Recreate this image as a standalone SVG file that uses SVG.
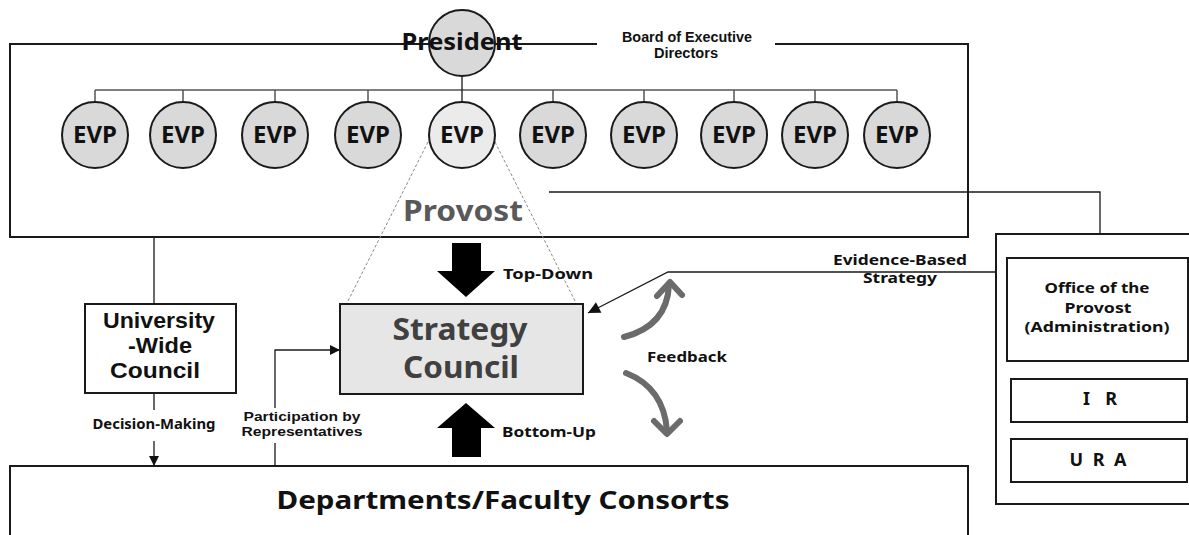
<svg xmlns="http://www.w3.org/2000/svg" width="1189" height="535" viewBox="0 0 1189 535">
<defs>
<style>
text{font-family:"Noto Sans","Liberation Sans",sans-serif;font-weight:bold;fill:#111;}
.lib{font-family:"Liberation Sans",Arial,sans-serif;}
.frame{fill:none;stroke:#1a1a1a;stroke-width:2;}
.box{fill:#fff;stroke:#1a1a1a;stroke-width:2;}
.evp{fill:#d9d9d9;stroke:#1a1a1a;stroke-width:2;}
.thin{fill:none;stroke:#1a1a1a;stroke-width:1.3;}
.bus{fill:none;stroke:#555;stroke-width:1.5;}
.dash{fill:none;stroke:#8a8a8a;stroke-width:1;stroke-dasharray:3 2;}
.fb{fill:none;stroke:#6b6b6b;stroke-width:6;stroke-linecap:round;stroke-linejoin:round;}
.ev{font-size:24px;text-anchor:middle;}
.lbl{font-size:15px;}
</style>
<marker id="ah" viewBox="0 0 10 10" refX="10" refY="5" markerWidth="10" markerHeight="10" markerUnits="userSpaceOnUse" orient="auto"><path d="M0,0 L10,5 L0,10 Z" fill="#111"/></marker>
<marker id="ah2" viewBox="0 0 10 10" refX="10" refY="5" markerWidth="14" markerHeight="12" markerUnits="userSpaceOnUse" orient="auto"><path d="M0,0 L10,5 L0,10 Z" fill="#111"/></marker>
</defs>

<g id="board">
<path class="frame" d="M597,44 H10 V237 H968 V44 H775"/>
<text class="lib" x="687" y="42" font-size="14" text-anchor="middle" textLength="130" lengthAdjust="spacingAndGlyphs">Board of Executive</text>
<text class="lib" x="686" y="58" font-size="14" text-anchor="middle" textLength="64" lengthAdjust="spacingAndGlyphs">Directors</text>
</g>

<g id="connectors">
<path class="bus" d="M95,90 H897 M95,90 V102 M183,90 V102 M275,90 V102 M368,90 V102 M553,90 V102 M644,90 V102 M734,90 V102 M815,90 V102 M897,90 V102"/>
<path class="thin" d="M462,77 V102"/>
<path class="dash" d="M428,142 L346,305 M495,142 L577,305"/>
<path class="thin" d="M549,192 H1100 V234"/>
<path class="thin" d="M154,237 V304 M154,393 V410"/>
<path class="thin" d="M154,441 V466" marker-end="url(#ah)"/>
<path class="thin" d="M275,466 V443 M275,408 V350 H340" marker-end="url(#ah)"/>
<path class="thin" d="M996,272 H668 L588,313" marker-end="url(#ah2)"/>
<polygon points="452,243 481,243 481,271 495,271 466,297 437,271 452,271" fill="#000"/>
<polygon points="452,457 481,457 481,428 495,428 466,403 437,428 452,428" fill="#000"/>
<path class="fb" d="M624,337 Q667,326 669,285"/>
<path class="fb" d="M657,296 L670,282 L682,295"/>
<path class="fb" d="M626,373 Q664,388 667,431"/>
<path class="fb" d="M654,421 L667,434 L680,421"/>
<text class="lbl" x="503" y="279" textLength="90" lengthAdjust="spacingAndGlyphs">Top-Down</text>
<text class="lbl" x="502" y="437" textLength="94" lengthAdjust="spacingAndGlyphs">Bottom-Up</text>
<text class="lbl" x="647" y="362" font-size="15.5" textLength="80" lengthAdjust="spacingAndGlyphs">Feedback</text>
<text class="lbl" x="900" y="265" text-anchor="middle" textLength="134" lengthAdjust="spacingAndGlyphs">Evidence-Based</text>
<text class="lbl" x="900" y="283" text-anchor="middle" textLength="74" lengthAdjust="spacingAndGlyphs">Strategy</text>
<text x="154" y="429" font-size="14" text-anchor="middle" textLength="123" lengthAdjust="spacingAndGlyphs">Decision-Making</text>
<text class="lib" x="302" y="421" font-size="13.2" text-anchor="middle" textLength="117" lengthAdjust="spacingAndGlyphs">Participation by</text>
<text class="lib" x="302" y="436" font-size="13.2" text-anchor="middle" textLength="121" lengthAdjust="spacingAndGlyphs">Representatives</text>
</g>

<g id="president">
<circle cx="462" cy="43" r="33" class="evp"/>
<text x="462" y="50" font-size="24" text-anchor="middle" textLength="121" lengthAdjust="spacingAndGlyphs">President</text>
</g>

<g id="evp1"><circle cx="95" cy="135" r="33" class="evp"/><text class="ev" x="95" y="143">EVP</text></g>
<g id="evp2"><circle cx="183" cy="135" r="33" class="evp"/><text class="ev" x="183" y="143">EVP</text></g>
<g id="evp3"><circle cx="275" cy="135" r="33" class="evp"/><text class="ev" x="275" y="143">EVP</text></g>
<g id="evp4"><circle cx="368" cy="135" r="33" class="evp"/><text class="ev" x="368" y="143">EVP</text></g>
<g id="evp5"><circle cx="462" cy="135" r="33" class="evp" style="fill:#ebebeb"/><text class="ev" x="462" y="143">EVP</text></g>
<g id="evp6"><circle cx="553" cy="135" r="33" class="evp"/><text class="ev" x="553" y="143">EVP</text></g>
<g id="evp7"><circle cx="644" cy="135" r="33" class="evp"/><text class="ev" x="644" y="143">EVP</text></g>
<g id="evp8"><circle cx="734" cy="135" r="33" class="evp"/><text class="ev" x="734" y="143">EVP</text></g>
<g id="evp9"><circle cx="815" cy="135" r="33" class="evp"/><text class="ev" x="815" y="143">EVP</text></g>
<g id="evp10"><circle cx="897" cy="135" r="33" class="evp"/><text class="ev" x="897" y="143">EVP</text></g>

<g id="provost">
<text x="463" y="221" font-size="29" text-anchor="middle" style="fill:#595959" textLength="120" lengthAdjust="spacingAndGlyphs">Provost</text>
</g>

<g id="strategy-council">
<rect x="340" y="304" width="243" height="90" fill="#e6e6e6" stroke="#1a1a1a" stroke-width="2"/>
<text x="460" y="340" font-size="31" text-anchor="middle" style="fill:#404040" textLength="135" lengthAdjust="spacingAndGlyphs">Strategy</text>
<text x="461" y="378" font-size="31" text-anchor="middle" style="fill:#404040" textLength="116" lengthAdjust="spacingAndGlyphs">Council</text>
</g>

<g id="university-wide-council">
<rect x="85" y="304" width="151" height="89" class="box"/>
<text class="lib" x="159" y="328" font-size="21.5" text-anchor="middle" textLength="112" lengthAdjust="spacingAndGlyphs">University</text>
<text class="lib" x="160" y="353" font-size="21.5" text-anchor="middle" textLength="64" lengthAdjust="spacingAndGlyphs">-Wide</text>
<text class="lib" x="155" y="378" font-size="21.5" text-anchor="middle" textLength="90" lengthAdjust="spacingAndGlyphs">Council</text>
</g>

<g id="departments">
<rect x="10" y="466" width="958" height="80" class="box"/>
<text x="503" y="509" font-size="25" text-anchor="middle" textLength="453" lengthAdjust="spacingAndGlyphs">Departments/Faculty Consorts</text>
</g>

<g id="provost-office-group">
<rect x="996" y="234" width="200" height="270" class="box"/>
</g>
<g id="office-of-the-provost">
<rect x="1007" y="258" width="181" height="103" class="box"/>
<text x="1097" y="293" font-size="15" text-anchor="middle" textLength="105" lengthAdjust="spacingAndGlyphs">Office of the</text>
<text x="1098" y="313" font-size="15" text-anchor="middle" textLength="67" lengthAdjust="spacingAndGlyphs">Provost</text>
<text x="1097" y="332" font-size="15" text-anchor="middle" textLength="145" lengthAdjust="spacingAndGlyphs">(Administration)</text>
</g>
<g id="ir">
<rect x="1011" y="379" width="176" height="43" class="box"/>
<text x="1100" y="405" font-size="18" text-anchor="middle" textLength="34">I R</text>
</g>
<g id="ura">
<rect x="1011" y="439" width="176" height="43" class="box"/>
<text x="1098" y="466" font-size="18" text-anchor="middle" textLength="57">U R A</text>
</g>
</svg>
